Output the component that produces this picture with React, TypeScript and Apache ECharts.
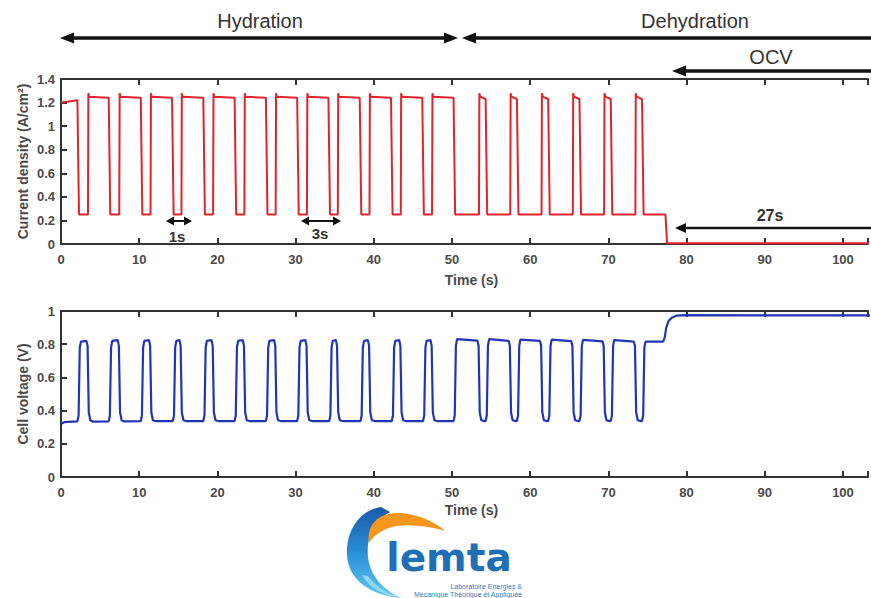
import React, { useEffect, useRef } from "react";
import * as echarts from "echarts";

// ---------- data ----------
const timeMin = 0;
const timeMax = 103.2; // the picture is cropped at about t = 103 s
const timeInterval = 10;
const currentMax = 1.4;
const voltageMax = 1;
const yInterval = 0.2;

// current density (A/cm²) vs time (s)
const currentTrace: [number, number][] = [
  [0, 1.2], [1, 1.21], [2.1, 1.22], [2.3, 0.25], [3.45, 0.25], [3.5, 1.28], [3.6, 1.25], [6.1, 1.24],
  [6.3, 0.25], [7.45, 0.25], [7.5, 1.28], [7.6, 1.25], [10.2, 1.24],
  [10.4, 0.25], [11.45, 0.25], [11.5, 1.28], [11.6, 1.25], [14.2, 1.24],
  [14.4, 0.25], [15.4, 0.25], [15.45, 1.28], [15.55, 1.25], [18.2, 1.24],
  [18.4, 0.25], [19.45, 0.25], [19.5, 1.28], [19.6, 1.25], [22.2, 1.24],
  [22.4, 0.25], [23.45, 0.25], [23.5, 1.28], [23.6, 1.25], [26.2, 1.24],
  [26.4, 0.25], [27.45, 0.25], [27.5, 1.28], [27.6, 1.25], [30.2, 1.24],
  [30.4, 0.25], [31.45, 0.25], [31.5, 1.28], [31.6, 1.25], [34.2, 1.24],
  [34.4, 0.25], [35.4, 0.25], [35.45, 1.28], [35.55, 1.25], [38.2, 1.24],
  [38.4, 0.25], [39.45, 0.25], [39.5, 1.28], [39.6, 1.25], [42.2, 1.24],
  [42.4, 0.25], [43.45, 0.25], [43.5, 1.28], [43.6, 1.25], [46.2, 1.24],
  [46.4, 0.25], [47.45, 0.25], [47.5, 1.28], [47.6, 1.25], [50.2, 1.24],
  [50.4, 0.25], [53.45, 0.25], [53.5, 1.28], [53.6, 1.25], [54.3, 1.23],
  [54.5, 0.25], [57.45, 0.25], [57.5, 1.28], [57.6, 1.25], [58.3, 1.23],
  [58.5, 0.25], [61.45, 0.25], [61.5, 1.28], [61.6, 1.25], [62.3, 1.23],
  [62.5, 0.25], [65.45, 0.25], [65.5, 1.28], [65.6, 1.25], [66.3, 1.23],
  [66.5, 0.25], [69.45, 0.25], [69.5, 1.28], [69.6, 1.25], [70.3, 1.23],
  [70.5, 0.25], [73.45, 0.25], [73.5, 1.28], [73.6, 1.25], [74.3, 1.23],
  [74.5, 0.25], [77.3, 0.25], [77.5, 0.006], [105, 0.006],
];

// cell voltage (V) vs time (s)
const voltageTrace: [number, number][] = [
  [0, 0.32], [0.4, 0.33], [2.1, 0.335], [2.25, 0.37], [2.4, 0.78], [2.55, 0.815], [3.25, 0.82], [3.4, 0.79], [3.55, 0.39], [3.75, 0.342], [4.1, 0.333],
  [6.1, 0.335], [6.25, 0.37], [6.4, 0.78], [6.55, 0.82], [7.25, 0.825], [7.4, 0.79], [7.55, 0.39], [7.75, 0.342], [8.1, 0.335],
  [10.2, 0.337], [10.35, 0.37], [10.5, 0.78], [10.65, 0.82], [11.25, 0.825], [11.4, 0.79], [11.55, 0.39], [11.75, 0.342], [12.1, 0.336],
  [14.3, 0.337], [14.45, 0.37], [14.6, 0.78], [14.75, 0.82], [15.15, 0.825], [15.3, 0.79], [15.45, 0.39], [15.65, 0.342], [16.0, 0.337],
  [18.2, 0.337], [18.35, 0.37], [18.5, 0.78], [18.65, 0.82], [19.25, 0.825], [19.4, 0.79], [19.55, 0.39], [19.75, 0.342], [20.1, 0.337],
  [22.2, 0.337], [22.35, 0.37], [22.5, 0.78], [22.65, 0.82], [23.25, 0.825], [23.4, 0.79], [23.55, 0.39], [23.75, 0.342], [24.1, 0.337],
  [26.2, 0.337], [26.35, 0.37], [26.5, 0.78], [26.65, 0.82], [27.25, 0.825], [27.4, 0.79], [27.55, 0.39], [27.75, 0.342], [28.1, 0.337],
  [30.2, 0.337], [30.35, 0.37], [30.5, 0.78], [30.65, 0.82], [31.25, 0.825], [31.4, 0.79], [31.55, 0.39], [31.75, 0.342], [32.1, 0.337],
  [34.3, 0.337], [34.45, 0.37], [34.6, 0.78], [34.75, 0.82], [35.15, 0.825], [35.3, 0.79], [35.45, 0.39], [35.65, 0.342], [36.0, 0.337],
  [38.3, 0.337], [38.45, 0.37], [38.6, 0.78], [38.75, 0.82], [39.25, 0.825], [39.4, 0.79], [39.55, 0.39], [39.75, 0.342], [40.1, 0.337],
  [42.3, 0.337], [42.45, 0.37], [42.6, 0.78], [42.75, 0.82], [43.25, 0.825], [43.4, 0.79], [43.55, 0.39], [43.75, 0.342], [44.1, 0.337],
  [46.3, 0.337], [46.45, 0.37], [46.6, 0.78], [46.75, 0.82], [47.25, 0.825], [47.4, 0.79], [47.55, 0.39], [47.75, 0.342], [48.1, 0.337],
  [50.2, 0.337], [50.35, 0.37], [50.5, 0.79], [50.65, 0.83], [53.25, 0.822], [53.4, 0.79], [53.55, 0.39], [53.75, 0.342], [54.2, 0.337],
  [54.3, 0.337], [54.45, 0.37], [54.6, 0.79], [54.75, 0.83], [57.25, 0.82], [57.4, 0.79], [57.55, 0.39], [57.75, 0.342], [58.2, 0.337],
  [58.3, 0.337], [58.45, 0.37], [58.6, 0.79], [58.75, 0.828], [61.25, 0.82], [61.4, 0.79], [61.55, 0.39], [61.75, 0.342], [62.2, 0.337],
  [62.3, 0.337], [62.45, 0.37], [62.6, 0.79], [62.75, 0.827], [65.25, 0.818], [65.4, 0.79], [65.55, 0.39], [65.75, 0.342], [66.2, 0.337],
  [66.3, 0.337], [66.45, 0.37], [66.6, 0.79], [66.75, 0.826], [69.25, 0.817], [69.4, 0.79], [69.55, 0.39], [69.75, 0.342], [70.2, 0.337],
  [70.3, 0.337], [70.45, 0.37], [70.6, 0.79], [70.75, 0.825], [73.25, 0.815], [73.4, 0.79], [73.55, 0.39], [73.75, 0.342], [74.2, 0.337],
  [74.3, 0.337], [74.45, 0.37], [74.6, 0.78], [74.75, 0.815], [77.0, 0.815], [77.2, 0.84], [77.4, 0.9], [77.7, 0.94], [78.1, 0.96], [78.7, 0.972], [80, 0.975], [105, 0.973],
];

const phaseLabels = ["Hydration", "Dehydration", "OCV"];
const durationLabels = ["1s", "3s", "27s"];
const axisTitles = { time: "Time (s)", current: "Current density (A/cm²)", voltage: "Cell voltage (V)" };
const logoWord = "lemta";
const logoLines = ["Laboratoire Energies &", "Mécanique Théorique et Appliquée"];

// ---------- logo shapes ----------
const blueSwooshPath =
  "M 381 507 C 360 510 346 530 347 555 C 348 579 369 595 401 598 C 382 589 370 575 368 557 C 366 538 373 522 390 512 Z";
const lightSwooshPath =
  "M 362 575 C 370 589 384 596 402 598 C 388 594 376 587 368 576 Z";
const orangeSwooshPath =
  "M 369 543 C 366 524 380 512 399 513 C 416 514 433 520 445 531 C 429 526 411 524 397 526 C 384 528 375 534 369 543 Z";
echarts.graphic.registerShape("lemtaBlue", echarts.graphic.extendPath(blueSwooshPath, {}));
echarts.graphic.registerShape("lemtaLight", echarts.graphic.extendPath(lightSwooshPath, {}));
echarts.graphic.registerShape("lemtaOrange", echarts.graphic.extendPath(orangeSwooshPath, {}));

const FONT = "Liberation Sans, Arial, Helvetica, sans-serif";
const AXIS = "#333";
const TXT = "#4a4a4a";

function head(tipX: number, y: number, dir: number, len: number, half: number) {
  return {
    type: "polygon",
    shape: { points: [[tipX, y], [tipX - dir * len, y - half], [tipX - dir * len, y + half]] },
    style: { fill: "#111" },
  };
}
function hline(x1: number, x2: number, y: number, w: number) {
  return { type: "line", shape: { x1, y1: y, x2, y2: y }, style: { stroke: "#111", lineWidth: w } };
}
function label(text: string, x: number, y: number, size: number, bold: boolean, align = "center") {
  return {
    type: "text",
    x,
    y,
    style: {
      text,
      fontSize: size,
      fontWeight: bold ? "bold" : "normal",
      fontFamily: FONT,
      fill: "#333",
      align,
      textAlign: align,
      verticalAlign: "middle",
      textVerticalAlign: "middle",
    },
  };
}

function xAxisPair(grid: number, gap: number) {
  const common = {
    gridIndex: grid,
    type: "value",
    min: timeMin,
    max: timeMax,
    interval: timeInterval,
    splitLine: { show: false },
    axisLine: { show: true, onZero: false, lineStyle: { color: AXIS, width: 2 } },
    axisTick: { show: true, inside: true, length: 6, lineStyle: { color: AXIS, width: 2 } },
  };
  return [
    {
      ...common,
      position: "bottom",
      name: axisTitles.time,
      nameLocation: "middle",
      nameGap: gap,
      nameTextStyle: { fontSize: 14, fontWeight: "bold", color: TXT, fontFamily: FONT, padding: [0, 0, 0, 14] },
      axisLabel: {
        margin: 9,
        fontSize: 13,
        fontWeight: "bold",
        color: TXT,
        fontFamily: FONT,
        formatter: (v: number) => (v % timeInterval === 0 ? String(v) : ""),
      },
    },
    { ...common, position: "top", axisLabel: { show: false } },
  ];
}
function yAxisOf(grid: number, max: number, name: string) {
  return {
    gridIndex: grid,
    type: "value",
    min: 0,
    max,
    interval: yInterval,
    name,
    nameLocation: "middle",
    nameGap: 31,
    nameMoveOverlap: false,
    nameTextStyle: { fontSize: 14, fontWeight: "bold", color: TXT, fontFamily: FONT },
    splitLine: { show: false },
    axisLine: { show: true, onZero: false, lineStyle: { color: AXIS, width: 2 } },
    axisTick: { show: true, inside: true, length: 6, lineStyle: { color: AXIS, width: 2 } },
    axisLabel: { margin: 6, fontSize: 13, fontWeight: "bold", color: TXT, fontFamily: FONT },
  };
}

export default function App() {
  const ref = useRef<HTMLDivElement>(null);
  useEffect(() => {
    const chart = echarts.init(ref.current!, undefined, { renderer: "svg" });
    const logoGradient = new echarts.graphic.LinearGradient(0, 0, 0, 1, [
      { offset: 0, color: "#1b5ba9" },
      { offset: 0.5, color: "#2a8fd6" },
      { offset: 1, color: "#63c9f1" },
    ]);
    const graphic: any[] = [
      // phase arrows above the chart
      hline(72, 446, 38, 3.5), head(60, 38, -1, 14, 5.5), head(458, 38, 1, 14, 5.5),
      label(phaseLabels[0], 260, 21, 20, false),
      hline(474, 880, 38, 3.5), head(462, 38, -1, 14, 5.5),
      label(phaseLabels[1], 695, 21, 20, false),
      hline(684, 880, 71, 3.5), head(672, 71, -1, 14, 5.5),
      label(phaseLabels[2], 771, 57, 20, false),
      // duration arrows inside the plot
      hline(172, 186, 221, 2), head(166, 221, -1, 8, 4.5), head(192, 221, 1, 8, 4.5),
      label(durationLabels[0], 177, 236, 15, true),
      hline(307, 335, 221, 2), head(301, 221, -1, 8, 4.5), head(341, 221, 1, 8, 4.5),
      label(durationLabels[1], 320, 233, 15, true),
      hline(685, 880, 228, 2.5), head(675, 228, -1, 11, 5),
      label(durationLabels[2], 770, 215, 16, true),
      // logo
      { type: "lemtaBlue", x: 0, y: 0, style: { fill: logoGradient } },
      { type: "lemtaLight", x: 0, y: 0, style: { fill: "#8fd8f5" } },
      { type: "lemtaOrange", x: 0, y: 0, style: { fill: "#f5961d" } },
      {
        type: "text",
        x: 449,
        y: 557,
        style: {
          text: logoWord,
          fontSize: 39,
          fontWeight: "bold",
          fontFamily: "DejaVu Sans, sans-serif",
          fill: "#1f6fb6",
          align: "center",
          textAlign: "center",
          verticalAlign: "middle",
          textVerticalAlign: "middle",
        },
      },
      {
        type: "text",
        x: 522,
        y: 586,
        style: { text: logoLines[0], fontSize: 7, fontFamily: FONT, fill: "#2a7cc0", align: "right", textAlign: "right", verticalAlign: "middle", textVerticalAlign: "middle" },
      },
      {
        type: "text",
        x: 522,
        y: 594,
        style: { text: logoLines[1], fontSize: 7, fontFamily: FONT, fill: "#2a7cc0", align: "right", textAlign: "right", verticalAlign: "middle", textVerticalAlign: "middle" },
      },
    ];
    chart.setOption({
      animation: false,
      backgroundColor: "#ffffff",
      grid: [
        { left: 61, top: 79, right: 0, height: 165 },
        { left: 61, top: 311, right: 0, height: 166 },
      ],
      xAxis: [...xAxisPair(0, 29), ...xAxisPair(1, 26)],
      yAxis: [yAxisOf(0, currentMax, axisTitles.current), yAxisOf(1, voltageMax, axisTitles.voltage)],
      series: [
        {
          type: "line",
          xAxisIndex: 0,
          yAxisIndex: 0,
          data: currentTrace,
          showSymbol: false,
          lineStyle: { color: "#e1232b", width: 2 },
          itemStyle: { color: "#e1232b" },
        },
        {
          type: "line",
          xAxisIndex: 2,
          yAxisIndex: 1,
          data: voltageTrace,
          showSymbol: false,
          lineStyle: { color: "#2236b5", width: 2.2 },
          itemStyle: { color: "#2236b5" },
        },
      ],
      graphic,
    });
    return () => chart.dispose();
  }, []);
  return (
    <div
      ref={ref}
      style={{ position: "fixed", left: 0, top: 0, width: 871, height: 598, background: "#fff" }}
    />
  );
}
